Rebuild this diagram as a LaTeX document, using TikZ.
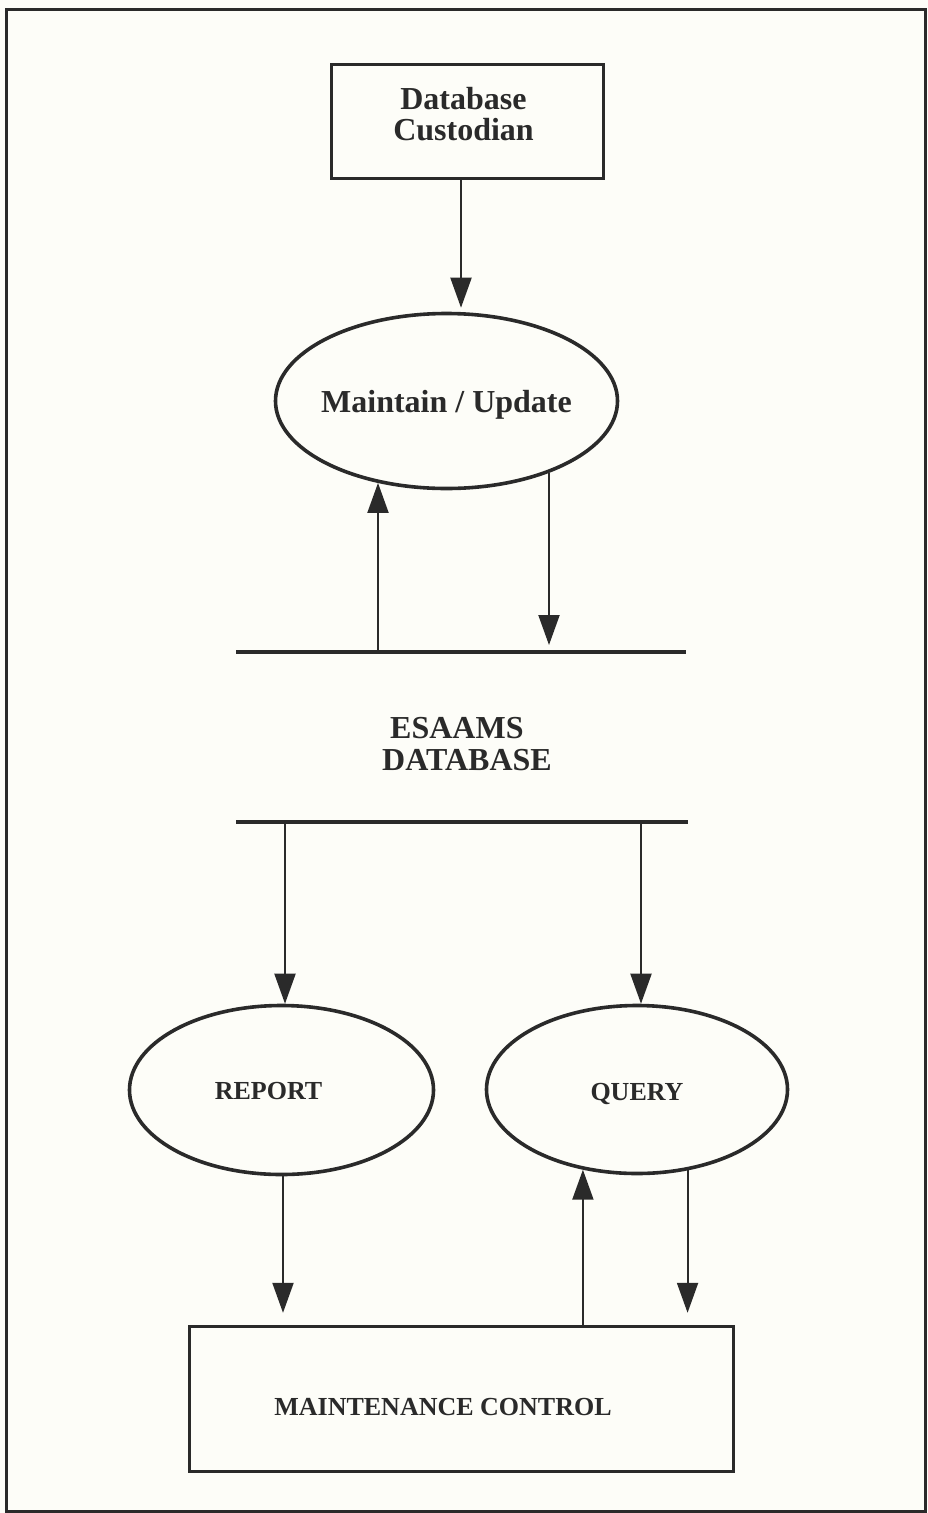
\documentclass[tikz,border=0pt]{standalone}
\usepackage{fontspec}
\setmainfont{Liberation Serif}
\usetikzlibrary{shapes.geometric,arrows.meta}
\definecolor{ink}{HTML}{2A2A2A}
\definecolor{paper}{HTML}{FDFDF8}

\begin{document}
\begin{tikzpicture}[x=1pt,y=-1pt,
  frame/.style={draw=ink,line width=3pt},
  entity/.style={draw=ink,line width=3.4pt,rectangle,inner sep=0pt},
  process/.style={draw=ink,line width=3.6pt,ellipse,inner sep=0pt},
  bigtext/.style={text=ink,font=\bfseries\fontsize{32}{31.5}\selectfont,inner sep=0pt},
  smalltext/.style={text=ink,font=\bfseries\fontsize{26}{28}\selectfont},
  store/.style={draw=ink,line width=3.4pt},
  flow/.style={draw=ink,line width=2pt,-{Triangle[length=30pt,width=21pt]}}]

  % page and outer frame
  \fill[paper] (0,0) rectangle (928,1513);
  \useasboundingbox (0,0) rectangle (928,1513);
  \draw[frame] (6,9) rectangle (925,1511);

  % external entity: custodian
  \node[entity,minimum width=272pt,minimum height=114pt] (cust) at (467.5,121.5) {};
  \node[bigtext,align=center] (custtxt) at (463.5,114) {Database\\Custodian};

  % process: maintain / update
  \node[process,minimum width=342pt,minimum height=175pt,bigtext] (maint) at (446.5,401)
    {\makebox[0pt]{\raisebox{-11pt}[0pt][0pt]{Maintain / Update}}};

  % data store
  \coordinate (s1l) at (236,652);
  \coordinate (s1r) at (686,652);
  \coordinate (s2l) at (236,822);
  \coordinate (s2r) at (688,822);
  \draw[store] (s1l) -- (s1r);
  \draw[store] (s2l) -- (s2r);
  \node[bigtext,align=left] (dbtxt) at (467,744) {\hspace*{8pt}ESAAMS\\DATABASE};

  \coordinate (s1a) at (378,652);
  \coordinate (s1b) at (549,652);
  \coordinate (s2a) at (285,822);
  \coordinate (s2b) at (641,822);

  % processes: report and query
  \node[process,minimum width=304pt,minimum height=169pt,smalltext] (report) at (281.5,1090)
    {\makebox[0pt]{\raisebox{-9.3pt}[0pt][0pt]{REPORT\hspace{26pt}}}};
  \node[process,minimum width=301pt,minimum height=168pt,smalltext] (query) at (637,1089.5)
    {\makebox[0pt]{\raisebox{-10.5pt}[0pt][0pt]{QUERY}}};

  % external entity: maintenance control
  \node[entity,minimum width=544pt,minimum height=145pt] (mc) at (461.5,1399) {};
  \node[smalltext,inner sep=0pt] (mctxt) at (443,1407) {MAINTENANCE CONTROL};

  % data flows
  \draw[flow,shorten >=4pt] ([xshift=-6.5pt]cust.south) -- ([xshift=-6.5pt]cust.south |- maint.north);
  \draw[flow] (s1a) -- (s1a |- maint.230);
  \draw[flow,shorten >=7pt] (s1b |- maint.325) -- (s1b);
  \draw[flow] (s2a) -- (s2a |- report.north);
  \draw[flow] (s2b) -- (s2b |- query.north);
  \draw[flow,shorten >=12pt] ([xshift=1.5pt]report.south) -- ([xshift=1.5pt]report.south |- mc.north);
  \draw[flow] (mc.north -| query.236) -- (query.236);
  \draw[flow,shorten >=12pt] (query.302) -- (query.302 |- mc.north);
\end{tikzpicture}
\end{document}
